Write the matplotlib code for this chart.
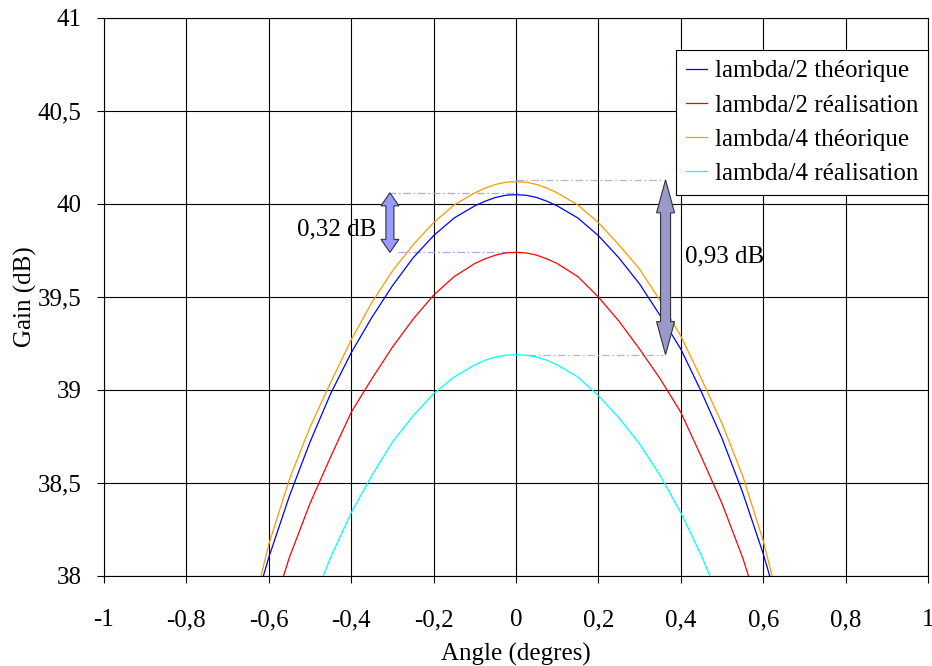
import numpy as np
import matplotlib
matplotlib.use('Agg')  # no display
import matplotlib.pyplot as plt
from matplotlib.patches import Polygon
from matplotlib.transforms import IdentityTransform

# values
x_lambda2_th = [-0.65, -0.6, -0.55, -0.5, -0.45, -0.4, -0.35, -0.3, -0.25, -0.2, -0.15, -0.1, -0.075, -0.05, -0.025, 0.0,
                0.025, 0.05, 0.075, 0.1, 0.15, 0.2, 0.25, 0.3, 0.35, 0.4, 0.45, 0.5, 0.55, 0.6, 0.65]
g_lambda2_th = [37.72, 38.10, 38.43, 38.72, 38.98, 39.20, 39.39, 39.56, 39.71, 39.83, 39.925, 39.99, 40.015, 40.035, 40.047, 40.05,
                40.047, 40.035, 40.015, 39.99, 39.925, 39.83, 39.71, 39.57, 39.40, 39.22, 38.99, 38.74, 38.45, 38.12, 37.74]

x_lambda2_real = [-0.6, -0.55, -0.5, -0.45, -0.4, -0.35, -0.3, -0.25, -0.2, -0.15, -0.1, -0.075, -0.05, -0.025, 0.0,
                  0.025, 0.05, 0.075, 0.1, 0.15, 0.2, 0.25, 0.3, 0.35, 0.4, 0.45, 0.5, 0.55, 0.6]
g_lambda2_real = [37.75, 38.10, 38.39, 38.64, 38.88, 39.06, 39.23, 39.38, 39.51, 39.61, 39.68, 39.705, 39.725, 39.737, 39.74,
                  39.737, 39.725, 39.705, 39.68, 39.61, 39.50, 39.37, 39.22, 39.06, 38.88, 38.64, 38.39, 38.10, 37.75]

x_lambda4_th = [-0.65, -0.6, -0.55, -0.5, -0.45, -0.4, -0.35, -0.3, -0.25, -0.2, -0.15, -0.1, -0.075, -0.05, -0.025, 0.0,
                0.025, 0.05, 0.075, 0.1, 0.15, 0.2, 0.25, 0.3, 0.35, 0.4, 0.45, 0.5, 0.55, 0.6, 0.65]
g_lambda4_th = [37.72, 38.17, 38.52, 38.80, 39.04, 39.27, 39.47, 39.64, 39.78, 39.90, 39.995, 40.06, 40.085, 40.105, 40.117, 40.12,
                40.117, 40.105, 40.085, 40.06, 39.995, 39.90, 39.78, 39.65, 39.48, 39.29, 39.06, 38.82, 38.54, 38.19, 37.75]

x_lambda4_real = [-0.5, -0.45, -0.4, -0.35, -0.3, -0.25, -0.2, -0.15, -0.1, -0.075, -0.05, -0.025, 0.0,
                  0.025, 0.05, 0.075, 0.1, 0.15, 0.2, 0.25, 0.3, 0.35, 0.4, 0.45, 0.5]
g_lambda4_real = [37.82, 38.10, 38.34, 38.54, 38.72, 38.86, 38.98, 39.07, 39.135, 39.16, 39.177, 39.187, 39.19,
                  39.187, 39.177, 39.16, 39.135, 39.07, 38.97, 38.85, 38.71, 38.54, 38.34, 38.11, 37.84]

series_labels = ['lambda/2 théorique', 'lambda/2 réalisation', 'lambda/4 théorique', 'lambda/4 réalisation']
series_colors = ['#0000ff', '#ff0000', '#ff9900', '#00ffff']

x_ticks = [-1, -0.8, -0.6, -0.4, -0.2, 0, 0.2, 0.4, 0.6, 0.8, 1]
x_ticklabels = ['-1', '-0,8', '-0,6', '-0,4', '-0,2', '0', '0,2', '0,4', '0,6', '0,8', '1']
y_ticks = [38, 38.5, 39, 39.5, 40, 40.5, 41]
y_ticklabels = ['38', '38,5', '39', '39,5', '40', '40,5', '41']

# gain differences marked with arrows: (x of arrow, low gain, high gain, label)
diff_small = (-0.306, 39.74, 40.06, '0,32 dB')
diff_large = (0.363, 39.19, 40.13, '0,93 dB')

plt.rcParams['font.family'] = ['Liberation Serif', 'DejaVu Serif']
fs = 18

fig = plt.figure(figsize=(9.32, 6.66), dpi=100)
ax = fig.add_axes([104 / 932, 90 / 666, 824 / 932, 558 / 666])

xs = [x_lambda2_th, x_lambda2_real, x_lambda4_th, x_lambda4_real]
gs = [g_lambda2_th, g_lambda2_real, g_lambda4_th, g_lambda4_real]
handles = []
for xv, gv, lab, col in zip(xs, gs, series_labels, series_colors):
    h, = ax.plot(xv, gv, color=col, lw=0.9, label=lab, zorder=3)
    handles.append(h)

ax.set_xlim(-1, 1)
ax.set_ylim(38, 41)
ax.set_xticks(x_ticks)
ax.set_xticklabels(x_ticklabels)
ax.set_yticks(y_ticks)
ax.set_yticklabels(y_ticklabels)
ax.tick_params(axis='both', direction='out', length=5, width=0.8, labelsize=fs, colors='black')
ax.tick_params(axis='x', pad=19)
ax.tick_params(axis='y', pad=11)
ax.grid(True, color='black', lw=0.8)
for sp in ax.spines.values():
    sp.set_color('black')
    sp.set_linewidth(0.8)

ax.set_xlabel('Angle (degres)', fontsize=fs, labelpad=8)
ax.set_ylabel('Gain (dB)', fontsize=fs, labelpad=1)

leg = ax.legend(handles=handles, loc='upper right', bbox_to_anchor=(1.0, 0.9427),
                borderaxespad=0, fancybox=False, framealpha=1, edgecolor='black',
                fontsize=fs, handlelength=0.85, handletextpad=0.3, labelspacing=0.47,
                borderpad=0.4)
leg.get_frame().set_linewidth(0.8)
leg.set_zorder(5)


def draw_darrow(xd, y0, y1, shaft, head, head_len, fill):
    # fat double-headed arrow, widths given in pixels
    (px, py0), = ax.transData.transform([(xd, y0)])
    (_, py1), = ax.transData.transform([(xd, y1)])
    verts = [(px, py1), (px + head, py1 - head_len), (px + shaft, py1 - head_len),
             (px + shaft, py0 + head_len), (px + head, py0 + head_len), (px, py0),
             (px - head, py0 + head_len), (px - shaft, py0 + head_len),
             (px - shaft, py1 - head_len), (px - head, py1 - head_len)]
    poly = Polygon(verts, closed=True, facecolor=fill, edgecolor='#333333', lw=0.8,
                   transform=IdentityTransform(), zorder=4)
    fig.add_artist(poly)


dash = (0, (6, 2.2, 1.4, 2.2))

# 0,32 dB marker
xa, ylo, yhi, txt = diff_small
ax.plot([xa - 0.005, 0.01], [yhi, yhi], color='#a8a8f4', lw=0.9, linestyle=dash, zorder=2)
ax.plot([xa + 0.02, 0.01], [ylo, ylo], color='#a8a8f4', lw=0.9, linestyle=dash, zorder=2)
draw_darrow(xa, ylo, yhi, 4, 9, 13, '#9999ff')
ax.text(-0.34, 39.865, txt, fontsize=fs, ha='right', va='center')

# 0,93 dB marker
xa, ylo, yhi, txt = diff_large
ax.plot([0.0, xa - 0.005], [yhi, yhi], color='#b4b4d4', lw=0.9, linestyle=dash, zorder=2)
ax.plot([0.03, xa - 0.005], [ylo, ylo], color='#b4b4d4', lw=0.9, linestyle=dash, zorder=2)
draw_darrow(xa, ylo, yhi, 5, 9, 33, '#9999cc')
ax.text(0.41, 39.72, txt, fontsize=fs, ha='left', va='center')

fig.savefig('out.png', dpi=100)
